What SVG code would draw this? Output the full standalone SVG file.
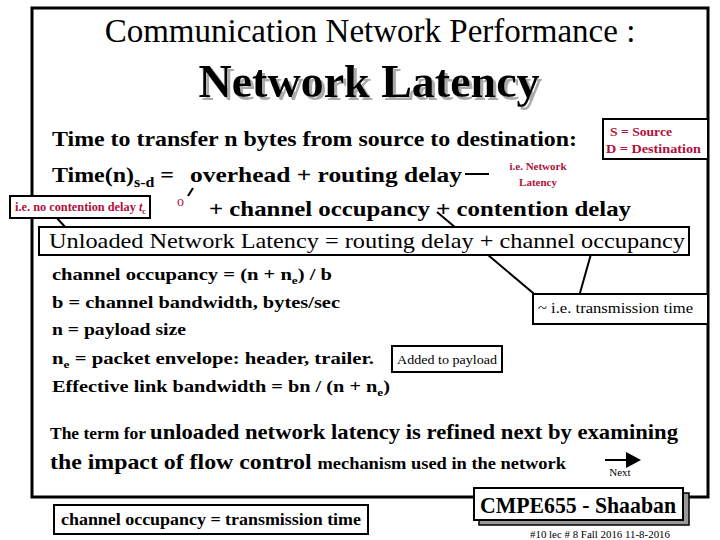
<svg xmlns="http://www.w3.org/2000/svg" width="720" height="540" viewBox="0 0 720 540">
<style>
text{font-family:'Liberation Serif','Times New Roman','DejaVu Serif',serif;fill:#000}
.b{font-weight:bold}
.m{font-size:21px;font-weight:bold}
.r{fill:#b0103a;font-weight:bold}
.box{fill:#fff;stroke:#000;stroke-width:2}
.ln{stroke:#000;stroke-width:2;fill:none}
</style>
<defs>
<filter id="sh" x="-5%" y="-10%" width="115%" height="130%">
<feDropShadow dx="3" dy="3" stdDeviation="0.5" flood-color="#aaa"/>
</filter>
</defs>
<rect width="720" height="540" fill="#fff"/>
<rect x="32" y="8" width="676" height="489" fill="#fff" stroke="#000" stroke-width="3"/>
<g id="title">
<text x="370" y="42" font-size="33" text-anchor="middle">Communication Network Performance :</text>
<text x="369" y="97" font-size="46" class="b" text-anchor="middle" filter="url(#sh)">Network Latency</text>
</g>
<g id="body">
<text x="52" y="146" class="m" textLength="525" lengthAdjust="spacingAndGlyphs">Time to transfer n bytes from source to destination:</text>
<text x="52" y="182" class="m" textLength="122" lengthAdjust="spacingAndGlyphs">Time(n)<tspan font-size="14" dy="5">s-d</tspan><tspan dy="-5"> =</tspan></text>
<text x="190" y="182" class="m" textLength="272" lengthAdjust="spacingAndGlyphs">overhead  +  routing delay</text>
<text x="177" y="206" font-size="14" style="fill:#b0103a">o</text>
<text x="209" y="216" class="m" textLength="422" lengthAdjust="spacingAndGlyphs">+  channel occupancy +  contention delay</text>
<text x="52" y="280" font-size="17" class="b" textLength="280" lengthAdjust="spacingAndGlyphs">channel occupancy  =  (n + n<tspan font-size="11" dy="4">e</tspan><tspan dy="-4">) / b</tspan></text>
<text x="52" y="308" font-size="17" class="b" textLength="288" lengthAdjust="spacingAndGlyphs">b = channel bandwidth,   bytes/sec</text>
<text x="52" y="335" font-size="17" class="b" textLength="134" lengthAdjust="spacingAndGlyphs">n = payload  size</text>
<text x="52" y="364" font-size="17" class="b" textLength="322" lengthAdjust="spacingAndGlyphs">n<tspan font-size="11" dy="4">e</tspan><tspan dy="-4"> =  packet envelope:  header, trailer.</tspan></text>
<text x="52" y="392" font-size="17" class="b" textLength="338" lengthAdjust="spacingAndGlyphs">Effective link bandwidth  =  bn / (n + n<tspan font-size="11" dy="4">e</tspan><tspan dy="-4">)</tspan></text>
<text x="50" y="439" class="b" textLength="628" lengthAdjust="spacingAndGlyphs"><tspan font-size="17">The term  for </tspan><tspan font-size="22">unloaded network latency is refined next by examining</tspan></text>
<text x="50" y="469" class="b" textLength="516" lengthAdjust="spacingAndGlyphs"><tspan font-size="22">the impact of flow control </tspan><tspan font-size="17">mechanism used in the network</tspan></text>
</g>
<g id="connectors">
<line class="ln" x1="465" y1="174" x2="489" y2="174"/>
<line class="ln" x1="188" y1="196" x2="193" y2="188" stroke-width="1.5"/>
<line class="ln" x1="56" y1="217" x2="66" y2="228" stroke-width="1.5"/>
<line class="ln" x1="437" y1="212" x2="539" y2="298"/>
<line class="ln" x1="591" y1="254" x2="578" y2="300"/>
<line class="ln" x1="605" y1="460" x2="628" y2="460" stroke-width="5"/>
<polygon points="626,452 641,460 626,468"/>
</g>
<g id="n-sd">
<rect class="box" x="603" y="119" width="105" height="40"/>
<text x="610" y="136" font-size="13" class="r" textLength="62" lengthAdjust="spacingAndGlyphs">S = Source</text>
<text x="606" y="153" font-size="13" class="r" textLength="95" lengthAdjust="spacingAndGlyphs">D = Destination</text>
</g>
<g id="n-netlat">
<text x="538" y="170" font-size="11" class="r" text-anchor="middle">i.e. Network</text>
<text x="538" y="186" font-size="11" class="r" text-anchor="middle">Latency</text>
</g>
<g id="n-nocont">
<rect class="box" x="10" y="196" width="140" height="22"/>
<text x="15" y="211" font-size="12" class="r" textLength="131" lengthAdjust="spacingAndGlyphs">i.e. no contention delay <tspan font-style="italic">t</tspan><tspan font-size="8" dy="3">c</tspan></text>
</g>
<g id="n-unloaded">
<rect class="box" x="39" y="227" width="650" height="28"/>
<text x="49" y="248" font-size="21" textLength="636" lengthAdjust="spacingAndGlyphs">Unloaded Network Latency =  routing delay   +   channel occupancy</text>
</g>
<g id="n-trans">
<rect class="box" x="533" y="294" width="175" height="30"/>
<text x="538" y="313" font-size="14" textLength="155" lengthAdjust="spacingAndGlyphs">~ i.e. transmission time</text>
</g>
<g id="n-added">
<rect class="box" x="392" y="346" width="110" height="26"/>
<text x="397" y="364" font-size="13" textLength="100" lengthAdjust="spacingAndGlyphs">Added to payload</text>
</g>
<g id="n-next">
<text x="620" y="476" font-size="11" text-anchor="middle">Next</text>
</g>
<g id="n-chocc">
<rect class="box" x="54" y="505" width="314" height="29"/>
<text x="61" y="525" font-size="16" class="b" textLength="300" lengthAdjust="spacingAndGlyphs">channel occupancy = transmission time</text>
</g>
<g id="n-cmpe">
<rect x="479" y="493" width="210" height="32" fill="#999" stroke="#000" stroke-width="1.5"/>
<rect class="box" x="474" y="488" width="209" height="32"/>
<text x="578" y="513" font-size="23" class="b" text-anchor="middle" textLength="196" lengthAdjust="spacingAndGlyphs">CMPE655 - Shaaban</text>
<text x="530" y="538" font-size="10" textLength="140" lengthAdjust="spacingAndGlyphs">#10   lec # 8   Fall 2016  11-8-2016</text>
</g>
</svg>
